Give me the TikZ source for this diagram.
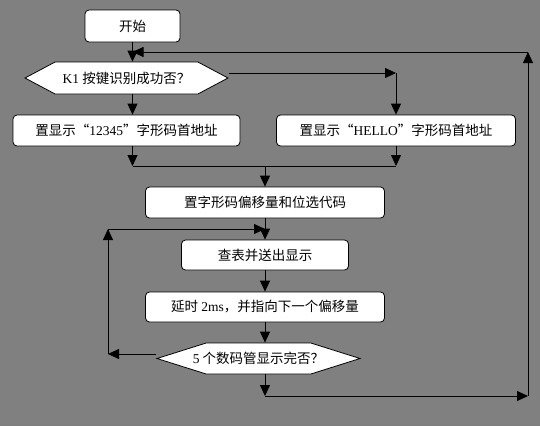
\documentclass[tikz,border=0pt]{standalone}
\usepackage{fontspec}
\setmainfont{Noto Sans CJK SC}
\newfontfamily\lat{Liberation Serif}
\usetikzlibrary{arrows.meta,shapes.symbols}
\definecolor{bggray}{HTML}{808080}
\begin{document}
\begin{tikzpicture}[x=1pt,y=-1pt,
    box/.style ={rectangle, rounded corners=4pt, draw, fill=white, line width=0.8pt,
      inner sep=0pt, minimum height=31pt, font=\fontsize{13.5}{16}\selectfont},
    decision/.style ={signal, signal to=west and east, draw, fill=white, line width=0.8pt,
      inner sep=0pt, font=\fontsize{13.5}{16}\selectfont},
    conn/.style ={line width=0.8pt, -{Triangle[length=11pt,width=10pt]}},
    plain/.style ={line width=0.8pt}]
   \fill[bggray] (0,0) rectangle (540,426);

   \node[box, minimum width=95pt, minimum height=32pt] (start) at (132.5,26) {开始};
   \node[decision, minimum width=203pt, minimum height=32pt, signal pointer angle=56]
      (k1) at (126.5,78) {{\lat K1} 按键识别成功否？};
   \node[box, minimum width=227pt] (num) at (126.5,130.5) {置显示“{\lat 12345}”字形码首地址};
   \node[box, minimum width=239pt] (hello) at (396,130.5) {置显示“{\lat HELLO}”字形码首地址};
   \node[box, minimum width=239pt] (offset) at (265,202.5) {置字形码偏移量和位选代码};
   \node[box, minimum width=167pt, minimum height=30pt] (lookup) at (265,255) {查表并送出显示};
   \node[box, minimum width=239pt, minimum height=30pt] (delay) at (265,307) {延时 {\lat 2ms}，并指向下一个偏移量};
   \node[decision, minimum width=203pt, minimum height=31pt, signal pointer angle=35,
      inner xsep=-14pt] (done) at (258.5,358.5) {{\lat 5} 个数码管显示完否？};

   \coordinate (loopin) at (132.5,52);
   \coordinate (hellotop) at (396,73);
   \coordinate (mergeL) at (132.5,166);
   \coordinate (mergeR) at (396,166);
   \coordinate (backL) at (108,354);
   \coordinate (backT) at (108,229);
   \coordinate (exitD) at (265,396);
   \coordinate (exitR) at (528,396);
   \coordinate (exitT) at (528,52);

   \draw[conn] (start.south) to (k1.north -| start);
   \draw[conn] (k1.east |- hellotop) to (hellotop);
   \draw[conn] (hellotop) to (hello.north);
   \draw[conn] (k1.south -| start) to (num.north -| start);
   \draw[conn] (num.south -| start) to (mergeL);
   \draw[conn] (hello.south) to (mergeR);
   \draw[plain] (mergeL) to (mergeR);
   \draw[conn] (offset.north |- mergeL) to (offset.north);
   \draw[conn] (offset.south) to (lookup.north);
   \draw[conn] (lookup.south) to (delay.north);
   \draw[conn] (delay.south) to (done.north -| delay);
   \draw[conn] (done.west |- backL) to (backL);
   \draw[conn] (backL) to (backT);
   \draw[conn] (backT) to (backT -| lookup);
   \draw[conn] (done.south -| delay) to (exitD);
   \draw[conn] (exitD) to (exitR);
   \draw[conn] (exitR) to (exitT);
   \draw[conn] (exitT) to (loopin);

\end{tikzpicture}
\end{document}
